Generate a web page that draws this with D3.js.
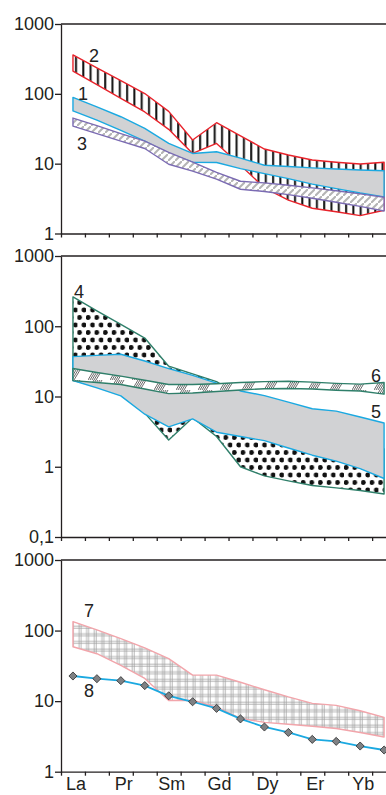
<!DOCTYPE html>
<html>
<head>
<meta charset="utf-8">
<script src="https://cdn.jsdelivr.net/npm/d3@7"></script>
<style>
  body { margin: 0; background: #fff; }
  svg { display: block; font-family: "Liberation Sans", Arial, sans-serif; }
</style>
</head>
<body>
<div id="chart"></div>
<script>
// REE order on the x axis
const elements = ['La', 'Ce', 'Pr', 'Nd', 'Sm', 'Eu', 'Gd', 'Tb', 'Dy', 'Ho', 'Er', 'Tm', 'Yb', 'Lu'];
const labelled = ['La', 'Pr', 'Sm', 'Gd', 'Dy', 'Er', 'Yb'];

// panel 1
const band1Upper = [89, 65, 47, 32, 19.5, 14, 14.8, 12, 9.5, 9.1, 8.7, 8.4, 8.1, 7.9];
const band1Lower = [57, 42, 30, 21, 14, 10.5, 10.4, 8.5, 7.2, 6.1, 5.1, 4.4, 3.8, 3.35];
const band2Upper = [360, 235, 155, 101, 56, 21.8, 38.6, 25, 16.2, 13.3, 11.3, 10.5, 9.9, 10.5];
const band2Lower = [212, 135, 86, 55, 31, 14, 19.5, 9.5, 4.5, 3.0, 2.3, 2.05, 1.8, 2.15];
const band3Upper = [45, 35, 27, 21, 14.5, 10.5, 7.5, 5.6, 5.3, 4.9, 4.5, 4.1, 3.7, 3.3];
const band3Lower = [34.5, 27, 21, 16.5, 9.8, 7.8, 6.0, 4.3, 4.0, 3.6, 3.2, 2.8, 2.45, 2.1];

// panel 2
const band4Upper = [262, 165, 106, 68, 27, 21, 16.3, 10, 6, 4.5, 3.5, 3, 2.5, 1.8];
const band4Lower = [17, 14, 10.5, 5.8, 2.4, 5, 2.7, 1.0, 0.74, 0.63, 0.54, 0.5, 0.46, 0.41];
const band5Upper = [37, 38.5, 40, 32, 25, 20, 15.5, 12, 10.3, 8.3, 6.7, 6.2, 5.1, 4.2];
const band5Lower = [16.9, 13.3, 10.2, 5.6, 3.7, 4.8, 3.1, 2.7, 2.35, 1.85, 1.46, 1.2, 0.94, 0.68];
const band6Upper = [25, 22, 19.5, 17, 14.8, 14.8, 15.2, 15.8, 16.3, 16.5, 16, 15.4, 15, 15.8];
const band6Lower = [16.8, 15.8, 14.8, 12.8, 11, 11.2, 11.8, 12.4, 12.9, 13, 12.8, 12.3, 12, 10.8];

// panel 3
const band7Upper = [134, 102, 77, 57, 40, 23.4, 23.4, 18.5, 14.5, 11.5, 9.3, 8.7, 7.3, 5.9];
const band7Lower = [59, 47, 32, 21, 10.2, 10.3, 8.2, 5.7, 5.0, 4.7, 4.4, 4.1, 3.6, 3.1];
const line8 = [22.7, 20.8, 19.5, 16.6, 11.9, 9.8, 7.9, 5.6, 4.3, 3.6, 2.87, 2.69, 2.31, 2.03];

// tick labels
const ticksA = [1, 10, 100, 1000];
const ticksB = [0.1, 1, 10, 100, 1000];

const width = 386, height = 795;
const axisColor = '#231f20';

const svg = d3.select('#chart').append('svg')
  .attr('width', width)
  .attr('height', height);

// patterns
const defs = svg.append('defs');

const pVert = defs.append('pattern').attr('id', 'vert')
  .attr('patternUnits', 'userSpaceOnUse').attr('width', 7.3).attr('height', 10);
pVert.append('rect').attr('width', 7.3).attr('height', 10).attr('fill', '#fff');
pVert.append('rect').attr('x', 2).attr('width', 2).attr('height', 10).attr('fill', '#111');

const pDiag = defs.append('pattern').attr('id', 'diag')
  .attr('patternUnits', 'userSpaceOnUse').attr('width', 7).attr('height', 7);
pDiag.append('rect').attr('width', 7).attr('height', 7).attr('fill', '#fff');
pDiag.append('path').attr('d', 'M-1,8 L8,-1').attr('stroke', '#b4b4b4').attr('stroke-width', 2);

// staggered dots
const pDots = defs.append('pattern').attr('id', 'dots')
  .attr('patternUnits', 'userSpaceOnUse').attr('width', 8.6).attr('height', 15);
pDots.append('rect').attr('width', 8.6).attr('height', 15).attr('fill', '#fff');
pDots.append('circle').attr('cx', 2.2).attr('cy', 2.5).attr('r', 2.4).attr('fill', '#111');
pDots.append('circle').attr('cx', 6.5).attr('cy', 10).attr('r', 2.4).attr('fill', '#111');

const pFine = defs.append('pattern').attr('id', 'fine')
  .attr('patternUnits', 'userSpaceOnUse').attr('width', 22).attr('height', 10);
pFine.append('rect').attr('width', 22).attr('height', 10).attr('fill', '#fff');
[0, 2, 4, 6, 8].forEach(o => {
  pFine.append('path').attr('d', `M${o},10 L${o + 6},0`)
    .attr('stroke', '#444').attr('stroke-width', 0.8);
});

const pGrid = defs.append('pattern').attr('id', 'grid')
  .attr('patternUnits', 'userSpaceOnUse').attr('width', 7.6).attr('height', 7.6);
pGrid.append('rect').attr('width', 7.6).attr('height', 7.6).attr('fill', '#fff');
pGrid.append('path').attr('d', 'M3,0 V7.6 M5,0 V7.6 M0,3 H7.6 M0,5 H7.6')
  .attr('stroke', '#9a9a9a').attr('stroke-width', 0.7);

// x scale on element index
const x = d3.scaleLinear().domain([-0.5, 13.08]).range([61, 386]);

function panel(top, bottom, domain, tickVals, fmt) {
  const y = d3.scaleLog().domain(domain).range([bottom, top]);
  const g = svg.append('g');

  // left axis
  g.append('g')
    .attr('transform', `translate(${x(-0.5)},0)`)
    .call(d3.axisLeft(y).tickValues(tickVals).tickFormat(fmt).tickSize(6).tickSizeOuter(0).tickPadding(1))
    .call(a => a.selectAll('line,path').attr('stroke', axisColor).attr('stroke-width', 1.3))
    .call(a => a.selectAll('text').attr('font-size', 18).attr('fill', axisColor)
      .attr('font-family', '"Liberation Sans", Arial, sans-serif'));

  // bottom axis with ticks between elements
  g.append('g')
    .attr('transform', `translate(0,${bottom})`)
    .call(d3.axisBottom(x).tickValues(d3.range(14).map(i => i - 0.5)).tickFormat('').tickSize(4).tickSizeOuter(0))
    .call(a => a.selectAll('line,path').attr('stroke', axisColor).attr('stroke-width', 1.3));

  // top frame line
  g.append('line')
    .attr('x1', x(-0.5)).attr('x2', width)
    .attr('y1', top).attr('y2', top)
    .attr('stroke', axisColor).attr('stroke-width', 1.3);

  return { g, y };
}

function band(p, upper, lower, fill, stroke) {
  const area = d3.area()
    .x((d, i) => x(i))
    .y0((d, i) => p.y(lower[i]))
    .y1(d => p.y(d));
  p.g.append('path')
    .datum(upper)
    .attr('d', area)
    .attr('fill', fill)
    .attr('stroke', stroke)
    .attr('stroke-width', 1.4)
    .attr('stroke-linejoin', 'round');
}

function label(p, text, tx, ty) {
  p.g.append('text')
    .attr('x', tx).attr('y', ty)
    .attr('font-size', 18).attr('fill', '#222')
    .text(text);
}

const fmtComma = d => String(d).replace('.', ',');

// panel 1
const p1 = panel(24, 233.5, [1, 1000], ticksA, fmtComma);
band(p1, band2Upper, band2Lower, 'url(#vert)', '#e8232b');
band(p1, band1Upper, band1Lower, '#d1d2d4', '#1ba9e1');
band(p1, band3Upper, band3Lower, 'url(#diag)', '#7b6bb3');
label(p1, '2', 89, 62);
label(p1, '1', 78, 100);
label(p1, '3', 77, 150);

// panel 2
const p2 = panel(256, 537, [0.1, 1000], ticksB, fmtComma);
band(p2, band4Upper, band4Lower, 'url(#dots)', '#2f7f6a');
band(p2, band5Upper, band5Lower, '#d1d2d4', '#1ba9e1');
band(p2, band6Upper, band6Lower, 'url(#fine)', '#2f7f6a');
label(p2, '4', 74, 298);
label(p2, '6', 371, 382);
label(p2, '5', 371, 418);

// panel 3
const p3 = panel(560, 771.7, [1, 1000], ticksA, fmtComma);
band(p3, band7Upper, band7Lower, 'url(#grid)', '#f2a5ab');

const line = d3.line().x((d, i) => x(i)).y(d => p3.y(d));
p3.g.append('path')
  .datum(line8)
  .attr('d', line)
  .attr('fill', 'none')
  .attr('stroke', '#1ba9e1')
  .attr('stroke-width', 1.8);

p3.g.selectAll('.diamond')
  .data(line8)
  .enter()
  .append('path')
  .attr('class', 'diamond')
  .attr('d', d3.symbol().type(d3.symbolDiamond2).size(42))
  .attr('transform', (d, i) => `translate(${x(i)},${p3.y(d)})`)
  .attr('fill', '#7f8184')
  .attr('stroke', '#2b2b2b')
  .attr('stroke-width', 0.8);

label(p3, '7', 84, 617);
label(p3, '8', 84, 697);

// element names under the last panel
svg.append('g').selectAll('text')
  .data(labelled)
  .enter()
  .append('text')
  .attr('x', d => x(elements.indexOf(d)) + 3)
  .attr('y', 790)
  .attr('text-anchor', 'middle')
  .attr('font-size', 18)
  .attr('fill', axisColor)
  .text(d => d);
</script>
</body>
</html>
